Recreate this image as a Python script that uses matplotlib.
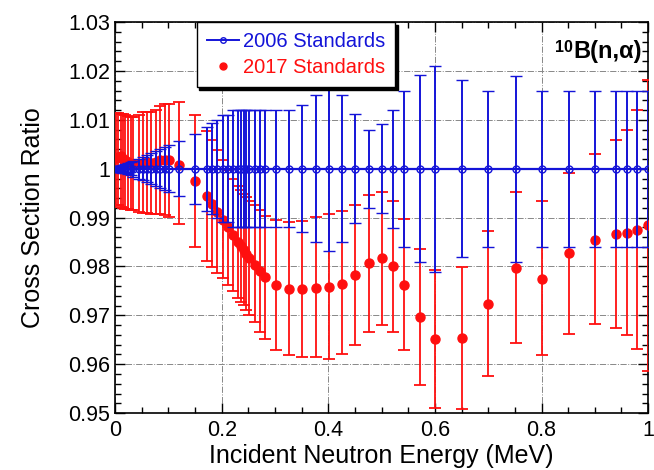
import matplotlib
matplotlib.use("Agg")
import matplotlib.pyplot as plt
from matplotlib.ticker import MultipleLocator, FuncFormatter
from matplotlib.lines import Line2D

plt.rcParams['font.family'] = ['Liberation Sans', 'DejaVu Sans']

# Energies (MeV)
energy = [0.002, 0.0056, 0.0106, 0.015, 0.0193, 0.0243, 0.029, 0.034, 0.0448, 0.0522,
          0.0603, 0.0678, 0.0759, 0.0846, 0.0927, 0.1007, 0.1207, 0.1505, 0.172, 0.182,
          0.192, 0.2015, 0.212, 0.221, 0.231, 0.236, 0.241, 0.246, 0.251, 0.262,
          0.271, 0.282, 0.301, 0.3265, 0.351, 0.376, 0.401, 0.426, 0.451, 0.477,
          0.501, 0.521, 0.542, 0.572, 0.601, 0.651, 0.70, 0.7525, 0.801, 0.851,
          0.90, 0.94, 0.96, 0.98, 1.0]

# 2017 standards ratio and error bar ends
ratio_2017 = [1.0022, 1.0024, 1.0027, 1.0020, 1.0017, 1.0014, 1.0010, 1.0010, 1.0010, 1.0012,
              1.0014, 1.0012, 1.0014, 1.0017, 1.0018, 1.0017, 1.0008, 0.9974, 0.9945, 0.9928,
              0.9912, 0.9895, 0.9880, 0.9865, 0.9850, 0.9841, 0.9834, 0.9826, 0.9817, 0.9803,
              0.9790, 0.9778, 0.9763, 0.9754, 0.9754, 0.9757, 0.9759, 0.9765, 0.9782, 0.9807,
              0.9817, 0.9800, 0.9763, 0.9696, 0.9651, 0.9653, 0.9723, 0.9797, 0.9775, 0.9827,
              0.9855, 0.9866, 0.9869, 0.9875, 0.9884]
upper_2017 = [1.0113, 1.0113, 1.0112, 1.0111, 1.0110, 1.0108, 1.0106, 1.0105, 1.0109, 1.0116,
              1.0116, 1.0116, 1.0120, 1.0128, 1.0133, 1.0133, 1.0137, 1.0110, 1.0078, 1.0058,
              1.0038, 1.0018, 0.9998, 0.9980, 0.9964, 0.9956, 0.9949, 0.9942, 0.9935, 0.9925,
              0.9915, 0.9904, 0.9895, 0.9890, 0.9894, 0.9902, 0.9908, 0.9913, 0.9926, 0.9947,
              0.9952, 0.9934, 0.9898, 0.9836, 0.9792, 0.9798, 0.9872, 0.9952, 0.9933, 0.9992,
              1.0031, 1.0058, 1.0080, 1.0120, 1.0182]
lower_2017 = [0.9925, 0.9925, 0.9922, 0.9920, 0.9918, 0.9917, 0.9915, 0.9915, 0.9911, 0.9910,
              0.9910, 0.9908, 0.9908, 0.9908, 0.9906, 0.9901, 0.9886, 0.9839, 0.9812, 0.9798,
              0.9787, 0.9776, 0.9763, 0.9749, 0.9736, 0.9728, 0.9722, 0.9712, 0.9701, 0.9686,
              0.9667, 0.9652, 0.9630, 0.9619, 0.9615, 0.9614, 0.9611, 0.9621, 0.9640, 0.9667,
              0.9681, 0.9667, 0.9629, 0.9557, 0.9510, 0.9509, 0.9575, 0.9643, 0.9619, 0.9662,
              0.9682, 0.9675, 0.9659, 0.9631, 0.9587]

# 2006 standards (ratio 1) and uncertainty
ratio_2006 = [1.0] * len(energy)
err_2006 = [0.0003, 0.0004, 0.0006, 0.0008, 0.0009, 0.0011, 0.0013, 0.0016, 0.0020, 0.0024,
            0.0028, 0.0032, 0.0036, 0.0040, 0.0044, 0.0048, 0.0056, 0.0072, 0.0086, 0.0093,
            0.0100, 0.0110, 0.0110, 0.0120, 0.0120, 0.0120, 0.0120, 0.0120, 0.0120, 0.0120,
            0.0120, 0.0120, 0.0120, 0.0120, 0.0130, 0.0150, 0.0168, 0.0150, 0.0112, 0.0080,
            0.0091, 0.0121, 0.0160, 0.0191, 0.0211, 0.0181, 0.0160, 0.0190, 0.0160, 0.0160,
            0.0160, 0.0160, 0.0160, 0.0160, 0.0160]

x_ticks = [0, 0.2, 0.4, 0.6, 0.8, 1.0]
y_ticks = [0.95, 0.96, 0.97, 0.98, 0.99, 1.0, 1.01, 1.02, 1.03]
series_labels = ['2006 Standards', '2017 Standards']

RED = '#ff0f0f'
BLUE = '#1414d8'

fig = plt.figure(figsize=(6.54, 4.70), dpi=100)
ax = fig.add_axes([0.176, 0.121, 0.815, 0.832])

yerr17 = [[r - l for r, l in zip(ratio_2017, lower_2017)],
          [u - r for r, u in zip(ratio_2017, upper_2017)]]
ax.errorbar(energy, ratio_2017, yerr=yerr17, fmt='o', color=RED, ms=6.5,
            elinewidth=1.3, capsize=4.5, capthick=1.3, zorder=3)
ax.errorbar(energy, ratio_2006, yerr=err_2006, fmt='-o', color=BLUE, ms=5,
            mfc='none', mew=1.0, lw=1.6, elinewidth=1.4, capsize=4.5, capthick=1.4,
            zorder=4)

ax.set_xlim(0, 1)
ax.set_ylim(0.95, 1.03)
ax.set_xticks(x_ticks)
ax.set_yticks(y_ticks)
ax.xaxis.set_minor_locator(MultipleLocator(0.05))
ax.yaxis.set_minor_locator(MultipleLocator(0.002))
fmt = FuncFormatter(lambda v, p: f'{v:g}')
ax.xaxis.set_major_formatter(fmt)
ax.yaxis.set_major_formatter(fmt)
ax.tick_params(which='both', direction='in', top=True, right=True, labelsize=15.5)
ax.tick_params(which='major', length=7, width=1.0)
ax.tick_params(which='minor', length=4, width=1.0)
ax.tick_params(axis='x', pad=5)
for s in ax.spines.values():
    s.set_linewidth(1.2)
ax.grid(True, which='major', color='#888888', linestyle='-.', linewidth=0.7, zorder=0)

ax.set_xlabel('Incident Neutron Energy (MeV)', fontsize=18, labelpad=2)
ax.set_ylabel('Cross Section Ratio', fontsize=18, labelpad=17)

h_blue = Line2D([], [], color=BLUE, lw=1.4, marker='o', ms=4, mfc='none', mew=1.0)
h_red = Line2D([], [], color=RED, lw=0, marker='o', ms=5)
leg = ax.legend([h_blue, h_red], series_labels, loc='upper left', bbox_to_anchor=(0.153, 1.0),
                fontsize=14.5, frameon=True, fancybox=False, shadow={'color': 'black', 'alpha': 1},
                borderaxespad=0, handlelength=1.6, handletextpad=0.2, borderpad=0.5,
                labelspacing=0.35)
leg.get_frame().set_edgecolor('black')
leg.get_frame().set_linewidth(1.0)
leg.get_frame().set_alpha(1)
for t, c in zip(leg.get_texts(), [BLUE, RED]):
    t.set_color(c)
leg.set_zorder(10)

t = ax.text(0.988, 0.955, 'B(n,α)', transform=ax.transAxes, ha='right', va='top',
            fontsize=17, fontweight='bold', zorder=11)
ax.annotate('10', xy=(0, 1.0), xycoords=t, ha='right', va='top', fontsize=11.5,
            fontweight='bold', zorder=11)

fig.savefig('out.png', dpi=100)
